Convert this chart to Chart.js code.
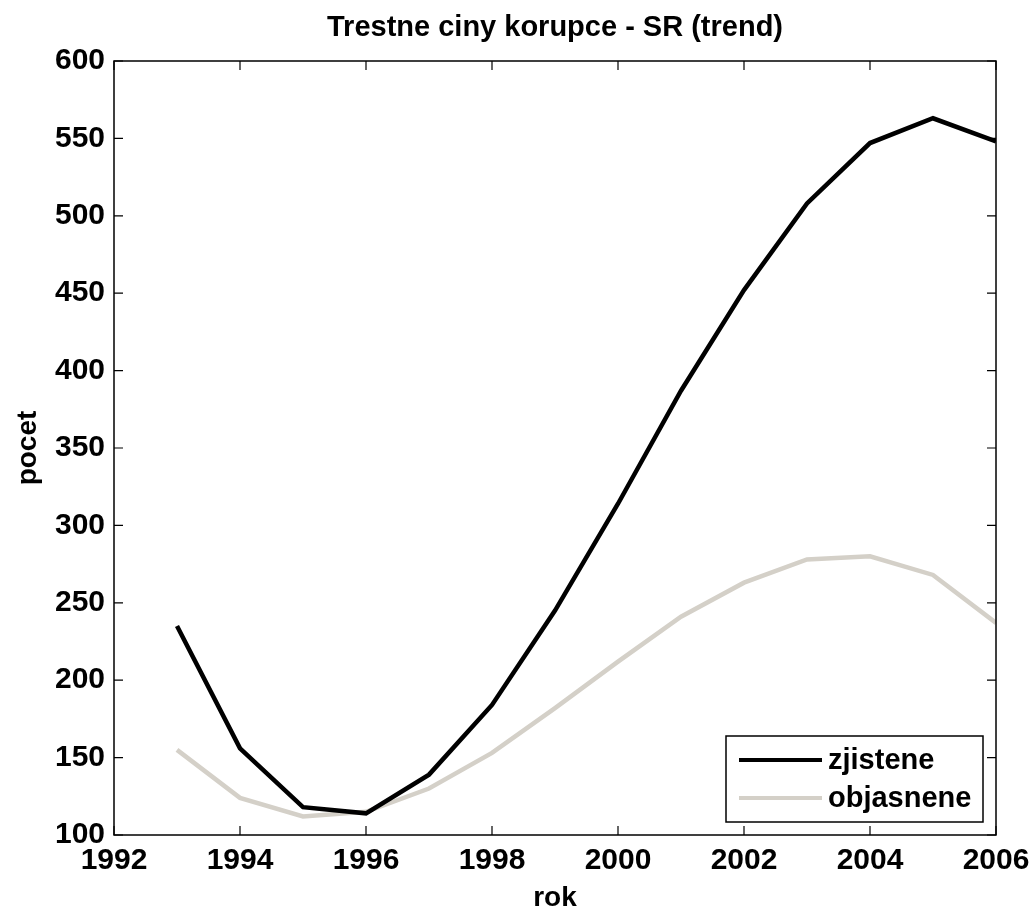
<!DOCTYPE html>
<html>
<head>
<meta charset="utf-8">
<script src="https://cdn.jsdelivr.net/npm/chart.js@4.4.1/dist/chart.umd.min.js"></script>
<style>
  html, body { margin: 0; padding: 0; background: #fff; }
  #wrap { width: 1034px; height: 914px; }
</style>
</head>
<body>
<div id="wrap"><canvas id="trendChart"></canvas></div>
<script>
const years = [1993, 1994, 1995, 1996, 1997, 1998, 1999, 2000, 2001, 2002, 2003, 2004, 2005, 2006];
const zjistene = [235, 156, 118, 114, 139, 184, 245, 314, 387, 452, 508, 547, 563, 548];
const objasnene = [155, 124, 112, 115, 130, 153, 182, 212, 241, 263, 278, 280, 268, 237];
const seriesNames = ["zjistene", "objasnene"];
const seriesColors = ["#000000", "#d4d0c8"];

const FONT = "'Liberation Sans', Arial, Helvetica, sans-serif";

// ramecek a tiky dovnitr (matlab styl)
const frameTicks = {
  id: "frameTicks",
  afterDraw(chart) {
    const { ctx, chartArea: a, scales } = chart;
    const len = 9;
    ctx.save();
    ctx.strokeStyle = "#000";
    ctx.lineWidth = 1.5;
    ctx.strokeRect(a.left, a.top, a.right - a.left, a.bottom - a.top);
    ctx.lineWidth = 1.2;
    ctx.beginPath();
    scales.x.ticks.forEach(t => {
      const px = scales.x.getPixelForValue(t.value);
      ctx.moveTo(px, a.bottom); ctx.lineTo(px, a.bottom - len);
      ctx.moveTo(px, a.top); ctx.lineTo(px, a.top + len);
    });
    scales.y.ticks.forEach(t => {
      const py = scales.y.getPixelForValue(t.value);
      ctx.moveTo(a.left, py); ctx.lineTo(a.left + len, py);
      ctx.moveTo(a.right, py); ctx.lineTo(a.right - len, py);
    });
    ctx.stroke();
    ctx.restore();
  }
};

// legenda v pravem dolnim rohu
const legendBox = {
  id: "legendBox",
  afterDraw(chart) {
    const { ctx, chartArea: a } = chart;
    const w = 257, h = 86;
    const x0 = a.right - 13 - w, y0 = a.bottom - 13 - h;
    ctx.save();
    ctx.fillStyle = "#fff";
    ctx.fillRect(x0, y0, w, h);
    ctx.strokeStyle = "#000";
    ctx.lineWidth = 1.5;
    ctx.strokeRect(x0, y0, w, h);
    ctx.font = "bold 29px " + FONT;
    ctx.textBaseline = "middle";
    chart.data.datasets.forEach((ds, i) => {
      const ly = y0 + 24 + i * 38;
      ctx.strokeStyle = ds.borderColor;
      ctx.lineWidth = 4;
      ctx.beginPath();
      ctx.moveTo(x0 + 13, ly);
      ctx.lineTo(x0 + 96, ly);
      ctx.stroke();
      ctx.fillStyle = "#000";
      ctx.fillText(ds.label, x0 + 102, ly + 1);
    });
    ctx.restore();
  }
};

const toPoints = vals => years.map((yr, i) => ({ x: yr, y: vals[i] }));

new Chart(document.getElementById("trendChart"), {
  type: "line",
  data: {
    datasets: [
      {
        label: seriesNames[0],
        data: toPoints(zjistene),
        borderColor: seriesColors[0],
        borderWidth: 4.5,
        pointRadius: 0,
        tension: 0,
      },
      {
        label: seriesNames[1],
        data: toPoints(objasnene),
        borderColor: seriesColors[1],
        borderWidth: 4.5,
        pointRadius: 0,
        tension: 0,
      },
    ],
  },
  options: {
    responsive: true,
    maintainAspectRatio: false,
    animation: false,
    layout: { padding: { left: 0, top: 0, right: 38, bottom: 0 } },
    plugins: {
      legend: { display: false },
      tooltip: { enabled: false },
      title: {
        display: true,
        text: "Trestne ciny korupce - SR (trend)",
        color: "#000",
        fullSize: false,
        font: { family: FONT, size: 29, weight: "bold", lineHeight: 1.2 },
        padding: { top: 11, bottom: 15.2 },
      },
    },
    scales: {
      x: {
        type: "linear",
        min: 1992,
        max: 2006,
        grid: { display: false, drawTicks: false },
        border: { display: false },
        ticks: {
          stepSize: 2,
          padding: 8,
          color: "#000",
          maxRotation: 0,
          font: { family: FONT, size: 30, weight: "bold" },
          callback: v => String(v),
        },
        title: {
          display: true,
          text: "rok",
          color: "#000",
          font: { family: FONT, size: 28, weight: "bold", lineHeight: 1.1 },
          padding: { top: 0, bottom: 0 },
        },
        afterFit: s => {
          s.height = 79;
          s.paddingLeft = 0;
          s.paddingRight = 0;
        },
      },
      y: {
        min: 100,
        max: 600,
        grid: { display: false, drawTicks: false },
        border: { display: false },
        ticks: {
          stepSize: 50,
          padding: 9,
          color: "#000",
          font: { family: FONT, size: 30, weight: "bold" },
        },
        title: {
          display: true,
          text: "pocet",
          color: "#000",
          font: { family: FONT, size: 28, weight: "bold", lineHeight: 1.2 },
          padding: { top: 11, bottom: 0 },
        },
        afterFit: s => {
          s.width = 114;
          s.paddingTop = 0;
          s.paddingBottom = 0;
        },
      },
    },
  },
  plugins: [frameTicks, legendBox],
});
</script>
</body>
</html>
